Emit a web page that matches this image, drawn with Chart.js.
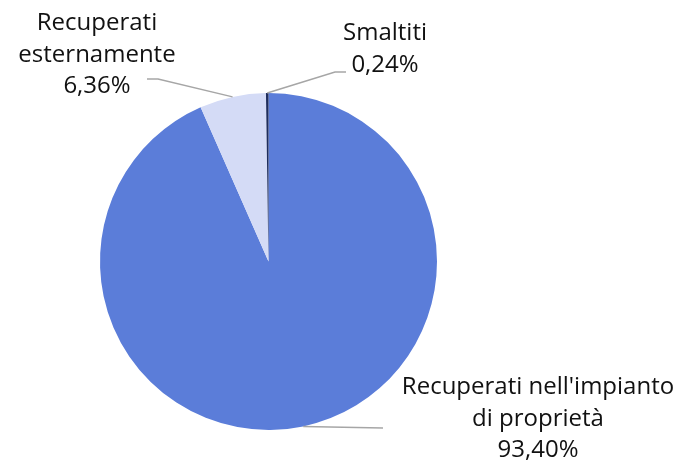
<!DOCTYPE html>
<html>
<head>
<meta charset="utf-8">
<script src="https://cdn.jsdelivr.net/npm/chart.js@4.4.1/dist/chart.umd.min.js"></script>
<style>
  html, body { margin: 0; padding: 0; background: #ffffff; }
  #wrap { width: 681px; height: 465px; }
</style>
</head>
<body>
<div id="wrap"><canvas id="c" width="681" height="465"></canvas></div>
<script>
// Destinazione dei rifiuti (quote percentuali)
const categories = [
  ["Recuperati nell'impianto", "di proprietà"],
  ["Recuperati", "esternamente"],
  ["Smaltiti"]
];
const shares = [93.40, 6.36, 0.24];
const valueLabels = ["93,40%", "6,36%", "0,24%"];
const sliceColors = ["#5B7DD9", "#D4DBF6", "#1F2D5C"];

// Where each label block sits (centre x, first baseline) and the elbow of its leader line
const labelPlacement = [
  { x: 538, y: 394, elbow: [[383, 428]] },
  { x: 97, y: 30, elbow: [[158, 79], [147, 79]] },
  { x: 385, y: 40, elbow: [[335, 72], [346, 72]] }
];

const FONT = "24px 'Open Sans', 'Noto Sans', sans-serif";
const LINE_H = 31.5;

const calloutPlugin = {
  id: 'callouts',
  afterDatasetsDraw(chart) {
    const ctx = chart.ctx;
    const meta = chart.getDatasetMeta(0);
    meta.data.forEach((arc, i) => {
      const p = arc.getProps(['x', 'y', 'startAngle', 'endAngle', 'outerRadius'], true);
      const mid = (p.startAngle + p.endAngle) / 2;
      const ax = p.x + Math.cos(mid) * p.outerRadius;
      const ay = p.y + Math.sin(mid) * p.outerRadius;
      const place = labelPlacement[i];

      // leader line
      ctx.save();
      ctx.strokeStyle = '#A6A6A6';
      ctx.lineWidth = 1.5;
      ctx.beginPath();
      ctx.moveTo(ax, ay);
      place.elbow.forEach(pt => ctx.lineTo(pt[0], pt[1]));
      ctx.stroke();
      ctx.restore();

      // label text: category lines followed by the value
      const lines = categories[i].concat([valueLabels[i]]);
      ctx.save();
      ctx.font = FONT;
      ctx.fillStyle = '#111111';
      ctx.textAlign = 'center';
      ctx.textBaseline = 'alphabetic';
      lines.forEach((t, k) => ctx.fillText(t, place.x, place.y + k * LINE_H));
      ctx.restore();
    });
  }
};

new Chart(document.getElementById('c'), {
  type: 'pie',
  data: {
    labels: categories.map(c => c.join(' ')),
    datasets: [{
      data: shares,
      backgroundColor: sliceColors,
      borderWidth: 0
    }]
  },
  options: {
    responsive: false,
    animation: false,
    rotation: 0,
    layout: { padding: { left: 100, right: 244, top: 93, bottom: 35 } },
    plugins: {
      legend: { display: false },
      tooltip: { enabled: false }
    }
  },
  plugins: [calloutPlugin]
});
</script>
</body>
</html>
